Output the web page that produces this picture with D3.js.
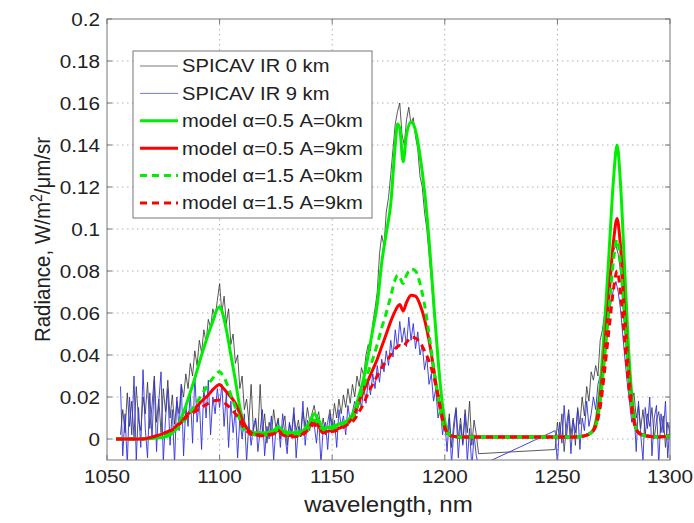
<!DOCTYPE html>
<html><head><meta charset="utf-8">
<script src="https://cdn.jsdelivr.net/npm/d3@7"></script>
<style>body{margin:0;background:#fff;} text{font-family:"Liberation Sans",Arial,sans-serif;fill:#222;}</style>
</head><body><svg id="c" width="694" height="523"></svg>
<script>
// ---- tick labels ----
const xTicks = [1050, 1100, 1150, 1200, 1250, 1300];
const yTicks = [0, 0.02, 0.04, 0.06, 0.08, 0.1, 0.12, 0.14, 0.16, 0.18, 0.2];
const legendLabels = ["SPICAV IR 0 km", "SPICAV IR 9 km", "model \u03b1=0.5 A=0km", "model \u03b1=0.5 A=9km", "model \u03b1=1.5 A=0km", "model \u03b1=1.5 A=9km"];

// ---- observed spectra (radiance in 1e-3 W/m2/um/sr), 1 nm sampling, gap 1216-1248 ----
const obsWl = d3.range(1056, 1216).concat(d3.range(1249, 1301));
const obs0km = [
 2,14,3,22,6,18,1,25,9,4,20,12,27,5,16,30,8,19,3,24,13,28,10,21,7,
 18,12,26,20,31,24,36,30,42,35,47,41,52,46,57,53,62,58,66,74,
 60,68,55,62,45,50,36,40,24,30,14,19,8,26,4,
 9,1,26,3,12,-2,8,2,14,5,10,0,6,11,-3,7,2,12,4,9,1,13,6,15,8,12,16,9,13,4,10,2,8,14,6,17,10,19,12,21,15,24,17,26,20,
 30,25,34,30,40,45,42,55,62,70,88,97,92,108,115,126,138,150,156,160,145,140,152,158,150,153,144,138,125,120,108,100,88,76,62,50,36,24,14,5,
 2,12,-4,8,15,0,10,-2,14,3,18,-3,9,2,-7,
 -5,8,0,12,-6,6,14,2,10,-3,15,7,20,11,25,18,32,
 28,35,30,47,52,60,70,78,85,90,92,88,80,68,54,40,28,18,22,10,16,5,14,2,12,6,15,0,9,13,3,11,-4,8,2
];
const obs9km = [
 25,-8,12,-12,20,2,30,-10,15,-4,33,5,-9,22,0,28,-6,18,32,-11,10,24,-3,14,-12,20,4,26,-8,16,6,22,-2,30,8,18,-5,25,10,28,2,20,12,24,15,26,6,22,-4,18,3,14,-9,10,0,12,-11,8,-3,6,
 10,-6,4,14,-8,6,0,11,-10,5,9,-4,12,2,-7,8,3,15,-9,6,1,18,-3,9,4,11,7,-2,10,-12,5,8,-5,12,3,9,-4,14,6,11,2,16,8,13,18,
 12,22,14,26,17,28,21,31,24,35,27,38,32,42,35,47,39,52,43,56,46,53,44,58,47,55,43,51,40,45,33,39,26,31,18,24,10,15,2,9,
 -6,10,-12,4,14,-9,7,-3,12,-11,5,-14,2,-8,-13,
 4,-12,8,-2,16,0,12,-7,9,3,14,-5,10,4,18,6,12,
 20,14,26,30,38,44,52,60,66,72,75,70,62,50,38,27,18,8,14,-6,18,2,-10,15,5,20,-8,10,16,-12,12,3,18,-9,8
];

// ---- model spectra (1e-3 units) on a shared wavelength grid ----
const modelWl = [1054,1065,1072,1076,1080,1083,1086,1089,1092,1095,1097,1099,1100,1101,1103,1105,1107,1109,1111,1113,1116,1120,1124,1126,1128,1132,1136,1140,1142,1144,1146,1150,1154,1157,1160,1162,1164,1166,1168,1170,1172,1174,1176,1178,1179,1180,1181.5,1183,1185,1187,1189,1191,1193,1195,1197,1199,1201,1203,1206,1230,1258,1262,1265,1267,1269,1271,1273,1275,1276.5,1278,1280,1282,1284,1286,1289,1295,1300];
const modelA05H0 = [0,0,0.5,1,4,10,19,29,40,50,56,62,63,61,52,40,28,15,7,4,3,3,4,6,4,3,3.5,8,12,9,5,6,7.5,9,14,21,29,40,52,64,84,98,112,140,150,148,132,145,151,147,135,118,95,66,38,16,4,1.5,1,1,1,1.5,3,8,25,55,90,125,140,122,78,36,11,3,1.5,1,1.5];
const modelA05H9 = [0,0,1.5,3,5,8,12,14.5,18,21,23.5,25.5,26,25,22.5,20,17,12,7,4,2,2,2.5,4,2.5,1.5,2,6,8.5,6,3.5,4,5.5,7.5,12,18,23,28,33,38,44,50,56,61,63,64,61,65,68.5,68,64,57,47,34,20,9,3,1.5,1,1,1,1.5,3,7,20,43,70,95,105,92,58,28,9,3,1.5,1,1.5];
const modelA15H0 = [0,0,1,2,4,7,11,16,21,26,29,31.5,32,31,27,21,15,9,4,2.5,2,2,3,4.5,3,2,2.5,6,9,7,4,5,6,8,12,19,25,32,38,45,53,60,68,76,78,77,74,78,81,80,74,64,50,34,20,8,3,1.5,1,1,1,1.5,3,6,18,39,63,86,95,84,54,26,9,3,1.5,1,1.5];
const modelA15H9 = [0,0,1.5,3,5.5,8.5,11,13,15,17,18,18.5,18.5,18,16.5,14.5,12,9,5,3,1.5,1.5,2.5,3.5,2,1,1.5,5,7,5,3,3.5,5,7,9.5,13,17,22,26,30,34,37,40,43,44,44.5,44,46,48.5,48,46,42,37,30,21,10,3,1.5,1,1,1,1.5,3,6,15,33,53,72,80,70,45,22,8,3,1.5,1,1.5];

// ---- layout ----
const W = 694, H = 523;
const m = {l: 107, r: 24, t: 19, b: 63};
const SX = 1.12; // horizontal stretch of the text in the reference
const svg = d3.select("#c");
const x = d3.scaleLinear().domain([1050, 1300]).range([m.l, W - m.r]);
const y = d3.scaleLinear().domain([-0.01, 0.2]).range([H - m.b, m.t]);
const iw = W - m.l - m.r, ih = H - m.t - m.b;

function txt(g, px, py, s, size, anchor) {
  return g.append("text").attr("transform", `translate(${px},${py}) scale(${SX},1)`)
    .attr("text-anchor", anchor).attr("font-size", size).text(s);
}

svg.append("defs").append("clipPath").attr("id", "clip")
  .append("rect").attr("x", m.l).attr("y", m.t).attr("width", iw).attr("height", ih);

// grid
const grid = svg.append("g").attr("stroke", "#b0b0b0").attr("stroke-width", 1).attr("stroke-dasharray", "1.5,3.5");
grid.selectAll(".gx").data(xTicks.slice(1, -1)).join("line")
  .attr("x1", d => x(d)).attr("x2", d => x(d)).attr("y1", m.t).attr("y2", H - m.b);
grid.selectAll(".gy").data(yTicks.slice(0, -1)).join("line")
  .attr("y1", d => y(d)).attr("y2", d => y(d)).attr("x1", m.l).attr("x2", W - m.r);

// series
const plot = svg.append("g").attr("clip-path", "url(#clip)");
const fmtObs = arr => obsWl.map((w, i) => ({w, v: arr[i] / 1000}));
const lineObs = d3.line().x(d => x(d.w)).y(d => y(d.v));
const lineMod = d3.line().x(d => x(d.w)).y(d => y(d.v)).curve(d3.curveMonotoneX);
const fmtMod = arr => modelWl.map((w, i) => ({w, v: arr[i] / 1000}));

plot.append("path").datum(fmtObs(obs0km)).attr("d", lineObs)
  .attr("fill", "none").attr("stroke", "#303030").attr("stroke-width", 0.8);
plot.append("path").datum(fmtObs(obs9km)).attr("d", lineObs)
  .attr("fill", "none").attr("stroke", "#3030e0").attr("stroke-width", 0.9);

const models = [
  {data: modelA05H0, color: "#00ee00", dash: null},
  {data: modelA05H9, color: "#ff0000", dash: null},
  {data: modelA15H0, color: "#00ee00", dash: "7,5"},
  {data: modelA15H9, color: "#ff0000", dash: "7,5"}
];
models.forEach(md => {
  plot.append("path").datum(fmtMod(md.data)).attr("d", lineMod)
    .attr("fill", "none").attr("stroke", md.color).attr("stroke-width", 3)
    .attr("stroke-dasharray", md.dash);
});

// axes frame
const fr = svg.append("g");
fr.append("rect").attr("x", m.l).attr("y", m.t).attr("width", iw).attr("height", ih)
  .attr("fill", "none").attr("stroke", "#777").attr("stroke-width", 1);
const tk = fr.append("g").attr("stroke", "#777").attr("stroke-width", 1);
yTicks.forEach(d => {
  tk.append("line").attr("x1", m.l).attr("x2", m.l + 5).attr("y1", y(d)).attr("y2", y(d));
  tk.append("line").attr("x1", W - m.r).attr("x2", W - m.r - 5).attr("y1", y(d)).attr("y2", y(d));
});
xTicks.forEach(d => {
  tk.append("line").attr("x1", x(d)).attr("x2", x(d)).attr("y1", H - m.b).attr("y2", H - m.b - 5);
  tk.append("line").attr("x1", x(d)).attr("x2", x(d)).attr("y1", m.t).attr("y2", m.t + 5);
});

// tick labels
const yl = svg.append("g");
yTicks.forEach(d => txt(yl, m.l - 7, y(d) + 6.5, String(+d.toFixed(2)), 18.5, "end"));
const xl = svg.append("g");
xTicks.forEach(d => txt(xl, x(d), H - m.b + 23, String(d), 18.5, "middle"));

// axis titles
txt(svg, x(1175), 512, "wavelength, nm", 21.5, "middle");
const yt = svg.append("text")
  .attr("transform", `translate(50,${(m.t + H - m.b) / 2}) scale(${SX},1) rotate(-90)`)
  .attr("text-anchor", "middle").attr("font-size", 20.5);
yt.append("tspan").text("Radiance, W/m");
yt.append("tspan").attr("baseline-shift", "super").attr("font-size", 14).text("2");
yt.append("tspan").text("/\u03bcm/sr");

// legend
const lg = svg.append("g");
const lgX = 133, lgY = 51, lgW = 239, lgH = 167, rowH = 27.4;
lg.append("rect").attr("x", lgX).attr("y", lgY).attr("width", lgW).attr("height", lgH)
  .attr("fill", "#fff").attr("stroke", "#777").attr("stroke-width", 1);
const legendStyles = [
  {color: "#555", w: 0.8, dash: null},
  {color: "#5050e0", w: 0.8, dash: null},
  {color: "#00ee00", w: 3, dash: null},
  {color: "#ff0000", w: 3, dash: null},
  {color: "#00ee00", w: 3, dash: "7,5"},
  {color: "#ff0000", w: 3, dash: "7,5"}
];
legendLabels.forEach((lab, i) => {
  const yy = lgY + 15 + i * rowH;
  lg.append("line").attr("x1", lgX + 7).attr("x2", lgX + 45).attr("y1", yy).attr("y2", yy)
    .attr("stroke", legendStyles[i].color).attr("stroke-width", legendStyles[i].w)
    .attr("stroke-dasharray", legendStyles[i].dash);
  txt(lg, lgX + 49, yy + 6.3, lab, 18, "start");
});
</script></body></html>
